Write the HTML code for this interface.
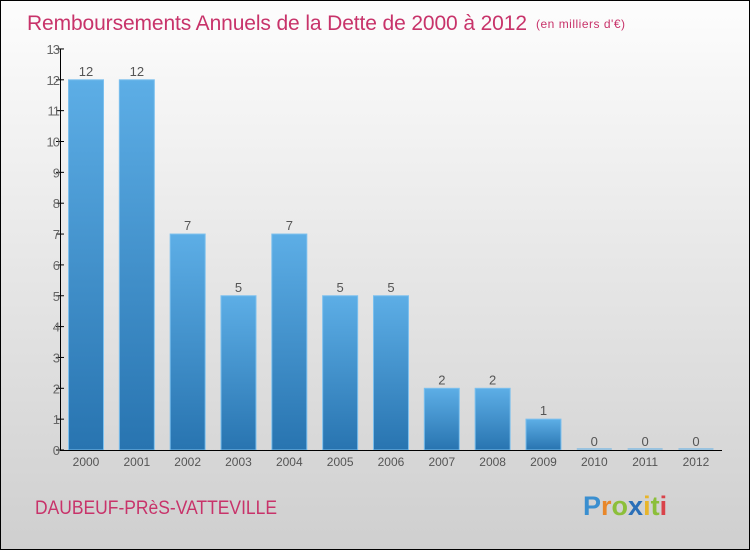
<!DOCTYPE html>
<html><head><meta charset="utf-8"><style>
body{margin:0}
svg text{font-family:"Liberation Sans",sans-serif}
</style></head><body>
<svg id="c" width="750" height="550" xmlns="http://www.w3.org/2000/svg">
<defs>
<linearGradient id="bg" x1="0" y1="0" x2="0" y2="1"><stop offset="0" stop-color="#fdfdfd"/><stop offset="1" stop-color="#cfcfcf"/></linearGradient>
<linearGradient id="bar" x1="0" y1="0" x2="0" y2="1"><stop offset="0" stop-color="#5daee6"/><stop offset="1" stop-color="#2874b0"/></linearGradient>
</defs>
<rect x="0.5" y="0.5" width="749" height="549" fill="url(#bg)" stroke="#000"/>
<text x="27" y="30" font-size="21" fill="#c8336a" textLength="500">Remboursements Annuels de la Dette de 2000 à 2012</text>
<text x="536" y="28" font-size="12" fill="#c8336a" textLength="89">(en milliers d'€)</text>
<g id="plot"></g>
<text x="35" y="514" font-size="19" fill="#c8336a" textLength="242" lengthAdjust="spacingAndGlyphs">DAUBEUF-PRèS-VATTEVILLE</text>
<text x="583" y="515" font-size="27" font-weight="bold"><tspan fill="#3a8fd0">P</tspan><tspan fill="#e8872a">r</tspan><tspan fill="#8cbf3a">o</tspan><tspan fill="#2a6fb8">x</tspan><tspan fill="#e8b52a">i</tspan><tspan fill="#8cbf3a">t</tspan><tspan fill="#d9434a">i</tspan></text>
</svg>
<script>
const years=["2000","2001","2002","2003","2004","2005","2006","2007","2008","2009","2010","2011","2012"];
const values=[12,12,7,5,7,5,5,2,2,1,0,0,0];
const yTicks=[0,1,2,3,4,5,6,7,8,9,10,11,12,13];
const NS="http://www.w3.org/2000/svg";
const g=document.getElementById('plot');
const y0=450,unit=30.85,xStart=86,step=50.83,bw=35;
const Y=v=>y0-v*unit, X=i=>xStart+i*step;
function el(t,a){const e=document.createElementNS(NS,t);for(const k in a)e.setAttribute(k,a[k]);g.appendChild(e);return e;}
values.forEach((v,i)=>{
  const h=v*unit;
  if(h>0){const r=el('rect',{x:X(i)-bw/2,y:Y(v),width:bw,height:h,fill:'url(#bar)',stroke:'#7cc0ee','stroke-width':1});
  
  }
  else{const r=el('line',{x1:X(i)-bw/2,x2:X(i)+bw/2,y1:y0-1,y2:y0-1,stroke:'#5daee6'});
  
  }
  const t=el('text',{x:X(i),y:Y(v)-4,'font-size':13,fill:'#555','text-anchor':'middle'});t.textContent=values[i];
  
  
  const xl=el('text',{x:X(i),y:466,'font-size':12,fill:'#555','text-anchor':'middle'});xl.textContent=years[i];
  
  
});
yTicks.forEach(v=>{
  el('line',{x1:56,x2:64,y1:Y(v),y2:Y(v),stroke:'#000'});
  const t=el('text',{x:59,y:Y(v)+5,'font-size':13,fill:'#666','text-anchor':'end','letter-spacing':'-1'});t.textContent=v;
  
  
});
const ya=el('line',{x1:60.5,x2:60.5,y1:Y(13),y2:y0,stroke:'#000'});


const xa=el('line',{x1:60,x2:722,y1:y0+0.5,y2:y0+0.5,stroke:'#000'});


</script>
</body></html>
